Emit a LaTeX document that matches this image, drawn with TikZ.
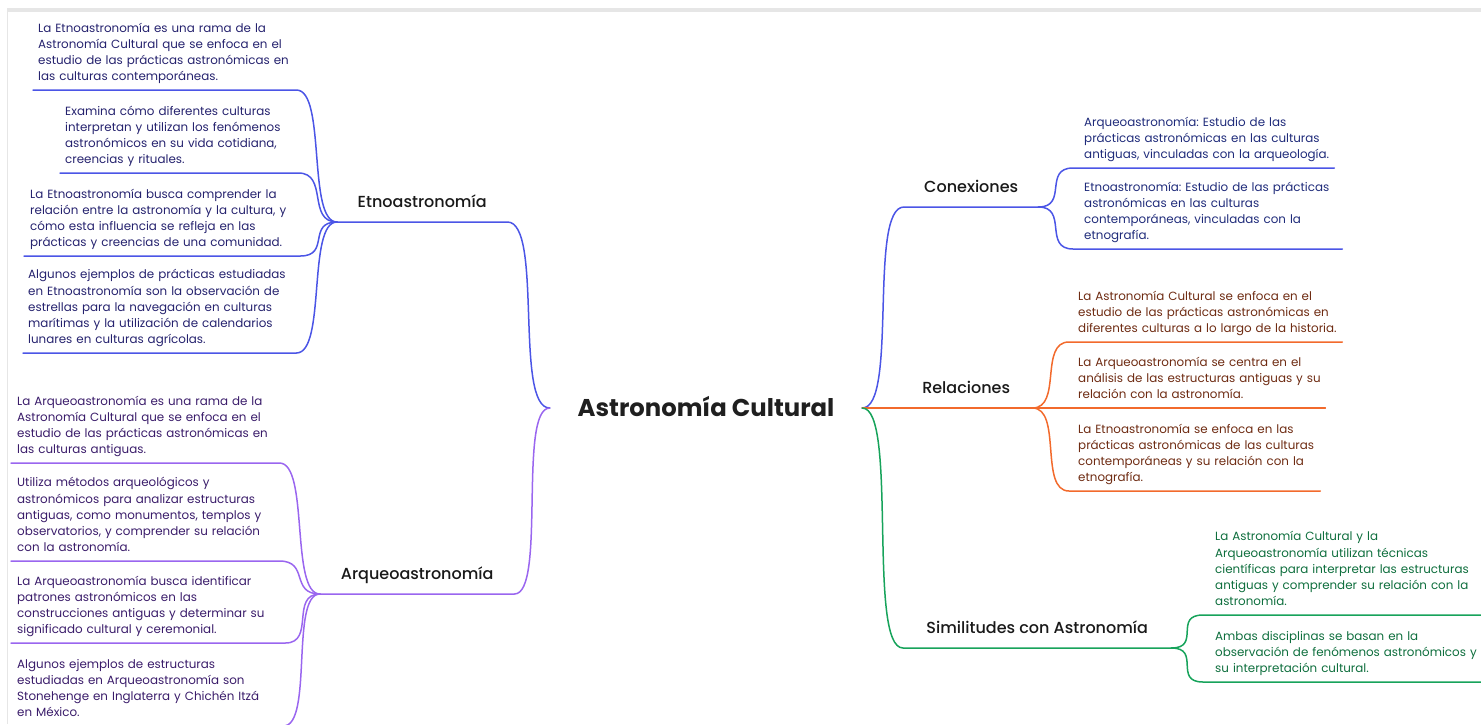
\documentclass[tikz,border=0pt]{standalone}
\usepackage{fontspec}
\setmainfont{Poppins}
\newfontfamily\midfont{Poppins Medium}

\definecolor{etnoblue}{HTML}{4B55E6}
\definecolor{arqpurple}{HTML}{9A66EF}
\definecolor{relorange}{HTML}{F26A2C}
\definecolor{simgreen}{HTML}{17A35B}
\definecolor{etnotext}{HTML}{25226E}
\definecolor{arqtext}{HTML}{3A1C6A}
\definecolor{context}{HTML}{1F2B7A}
\definecolor{reltext}{HTML}{6E2B12}
\definecolor{simtext}{HTML}{0E6E3D}
\definecolor{framegray}{HTML}{E6E6E6}

\begin{document}
\begin{tikzpicture}[
  x=1pt, y=-1pt,
  root/.style={font=\fontsize{24.3}{28}\selectfont\bfseries, text=black!88,
               minimum width=312pt, inner ysep=0pt, text height=17pt, text depth=0pt},
  branch/.style={font=\midfont\fontsize{16}{18}\selectfont, text=black!90,
                 anchor=south west, inner xsep=0pt, inner ysep=10pt, text depth=4pt},
  leaf/.style={font=\fontsize{11.9}{16.3}\selectfont\frenchspacing, anchor=south west, align=left,
               inner xsep=0pt, inner ysep=4pt,
               execute at begin node={\leftskip=#1\relax\rightskip=-30pt plus 1fil\relax},
               execute at end node={\strut}},
  leaf/.default=5pt,
  wire/.style={line width=1.5pt, line cap=round, line join=round},
  curveL/.style={to path={.. controls +(-#1,0) and +(#1,0) .. (\tikztotarget)}},
  curveR/.style={to path={.. controls +(#1,0) and +(-#1,0) .. (\tikztotarget)}},
  curveL/.default=30, curveR/.default=30
]
  \useasboundingbox (0,0) rectangle (1481,724);
  \clip (0,0) rectangle (1481,724);

  % frame of the canvas
  \fill[framegray] (7,8) rectangle (1481,12);
  \fill[framegray] (6.5,12) rectangle (8,724);

  \node[root] (root) at (706,408) {Astronomía Cultural};

  % main branches
  \node[branch, minimum width=170pt] (etno) at (337,222) {Etnoastronomía};
  \node[branch, minimum width=194pt] (arq)  at (320,594) {Arqueoastronomía};
  \node[branch, minimum width=134pt] (con)  at (904,207) {Conexiones};
  \node[branch, minimum width=132pt] (rel)  at (900,408) {Relaciones};
  \node[branch, minimum width=268pt] (sim)  at (903,648) {Similitudes con Astronomía};

  % Etnoastronomia
  \node[leaf, text=etnotext, text width=263pt] (e1) at (33,90)
    {La Etnoastronomía es una rama de la\\Astronomía Cultural que se enfoca en el\\
     estudio de las prácticas astronómicas en\\las culturas contemporáneas.};
  \node[leaf, text=etnotext, text width=238pt] (e2) at (60,173)
    {Examina cómo diferentes culturas\\interpretan y utilizan los fenómenos\\
     astronómicos en su vida cotidiana,\\creencias y rituales.};
  \node[leaf=6pt, text=etnotext, text width=276pt] (e3) at (24,256)
    {La Etnoastronomía busca comprender la\\relación entre la astronomía y la cultura, y\\
     cómo esta influencia se refleja en las\\prácticas y creencias de una comunidad.};
  \node[leaf, text=etnotext, text width=273pt] (e4) at (23,353)
    {Algunos ejemplos de prácticas estudiadas\\en Etnoastronomía son la observación de\\
     estrellas para la navegación en culturas\\marítimas y la utilización de calendarios\\
     lunares en culturas agrícolas.};

  % Arqueoastronomia
  \node[leaf=6pt, text=arqtext, text width=268pt] (a1) at (11,463)
    {La Arqueoastronomía es una rama de la\\Astronomía Cultural que se enfoca en el\\
     estudio de las prácticas astronómicas en\\las culturas antiguas.};
  \node[leaf=6pt, text=arqtext, text width=268pt] (a2) at (11,561)
    {Utiliza métodos arqueológicos y\\astronómicos para analizar estructuras\\
     antiguas, como monumentos, templos y\\observatorios, y comprender su relación\\
     con la astronomía.};
  \node[leaf=6pt, text=arqtext, text width=274pt] (a3) at (11,643)
    {La Arqueoastronomía busca identificar\\patrones astronómicos en las\\
     construcciones antiguas y determinar su\\significado cultural y ceremonial.};
  \node[leaf=6pt, text=arqtext, text width=272pt] (a4) at (11,726)
    {Algunos ejemplos de estructuras\\estudiadas en Arqueoastronomía son\\
     Stonehenge en Inglaterra y Chichén Itzá\\en México.};

  % Conexiones
  \node[leaf=11pt, text=context, text width=261pt] (c1) at (1073,168)
    {Arqueoastronomía: Estudio de las\\prácticas astronómicas en las culturas\\
     antiguas, vinculadas con la arqueología.};
  \node[leaf=11pt, text=context, text width=269pt] (c2) at (1073,249)
    {Etnoastronomía: Estudio de las prácticas\\astronómicas en las culturas\\
     contemporáneas, vinculadas con la\\etnografía.};

  % Relaciones
  \node[leaf=9pt, text=reltext, text width=273pt] (r1) at (1069,342)
    {La Astronomía Cultural se enfoca en el\\estudio de las prácticas astronómicas en\\
     diferentes culturas a lo largo de la historia.};
  \node[leaf=9pt, text=reltext, text width=256pt] (r2) at (1069,408)
    {La Arqueoastronomía se centra en el\\análisis de las estructuras antiguas y su\\
     relación con la astronomía.};
  \node[leaf=9pt, text=reltext, text width=251pt] (r3) at (1069,491)
    {La Etnoastronomía se enfoca en las\\prácticas astronómicas de las culturas\\
     contemporáneas y su relación con la\\etnografía.};

  % Similitudes
  \node[leaf=12pt, text=simtext, text width=280pt] (s1) at (1203,615)
    {La Astronomía Cultural y la\\Arqueoastronomía utilizan técnicas\\
     científicas para interpretar las estructuras\\antiguas y comprender su relación con la\\
     astronomía.};
  \node[leaf=12pt, text=simtext, text width=280pt] (s2) at (1203,682)
    {Ambas disciplinas se basan en la\\observación de fenómenos astronómicos y\\
     su interpretación cultural.};

  % connectors
  \draw[wire, etnoblue]   (root.west) to[curveL=36] (etno.south east) -- (etno.south west);
  \draw[wire, arqpurple]  (root.west) to[curveL=32] (arq.south east) -- (arq.south west);
  \draw[wire, etnoblue]   (root.east) to[curveR=36] (con.south west) -- (con.south east);
  \draw[wire, relorange]  (root.east) -- (rel.south west) -- (rel.south east);
  \draw[wire, simgreen]   (root.east) to[curveR=36] (sim.south west) -- (sim.south east);

  \foreach \n in {e1,e2,e3,e4}
    \draw[wire, etnoblue] (etno.south west) to[curveL] (\n.south east) -- (\n.south west);
  \foreach \n in {a1,a2,a3,a4}
    \draw[wire, arqpurple] (arq.south west) to[curveL] (\n.south east) -- (\n.south west);
  \foreach \n in {c1,c2}
    \draw[wire, etnoblue] (con.south east) to[curveR] (\n.south west) -- (\n.south east);
  \foreach \n in {r1,r3}
    \draw[wire, relorange] (rel.south east) to[curveR] (\n.south west) -- (\n.south east);
  \draw[wire, relorange] (rel.south east) -- (r2.south west) -- (r2.south east);
  \foreach \n in {s1,s2}
    \draw[wire, simgreen] (sim.south east) to[curveR] (\n.south west) -- (\n.south east);
\end{tikzpicture}
\end{document}
